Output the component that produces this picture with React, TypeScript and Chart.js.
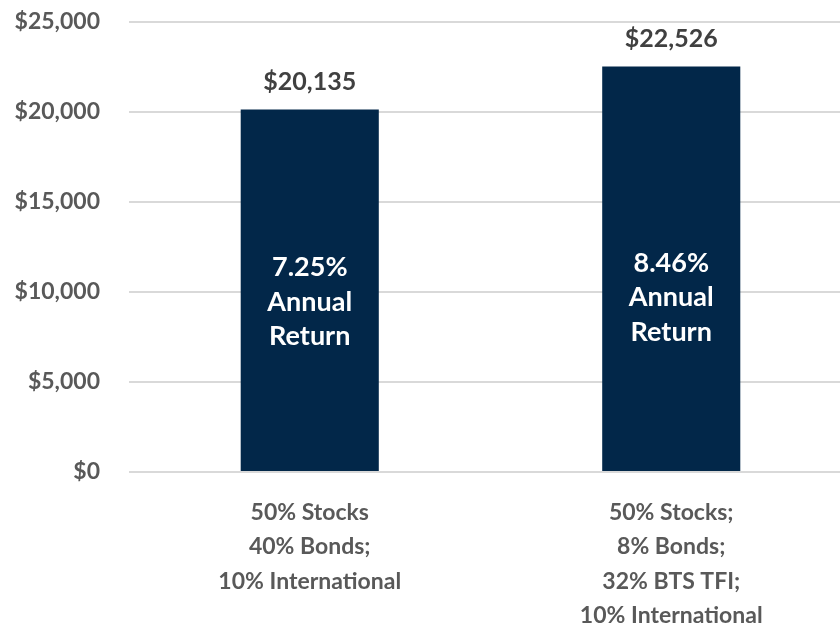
import React, { useEffect, useRef } from "react";
import { Chart, registerables } from "chart.js";

Chart.register(...registerables);

const categories: string[][] = [
  ["50% Stocks", "40% Bonds;", "10% International"],
  ["50% Stocks;", "8% Bonds;", "32% BTS TFI;", "10% International"],
];
const values: number[] = [20135, 22526];
const returnLabels: string[][] = [
  ["7.25%", "Annual", "Return"],
  ["8.46%", "Annual", "Return"],
];
const returnLabelAnchor: number[] = [9450, 9700];
const yTicks: number[] = [0, 5000, 10000, 15000, 20000, 25000];

const FONT = "Lato, 'Open Sans', sans-serif";
const fmt = (v: number) => "$" + v.toLocaleString("en-US");

const labelPlugin = {
  id: "barLabels",
  afterDatasetsDraw(chart: any) {
    const ctx = chart.ctx;
    const meta = chart.getDatasetMeta(0);
    const y = chart.scales.y;
    ctx.save();
    meta.data.forEach((bar: any, i: number) => {
      ctx.font = `bold 25px ${FONT}`;
      ctx.fillStyle = "#404040";
      ctx.textAlign = "center";
      ctx.textBaseline = "alphabetic";
      ctx.fillText(fmt(values[i]), bar.x, bar.y - 20);
      ctx.font = `bold 27px ${FONT}`;
      ctx.fillStyle = "#ffffff";
      ctx.textBaseline = "middle";
      const lines = returnLabels[i];
      const lh = 34.5;
      const cy = y.getPixelForValue(returnLabelAnchor[i]);
      lines.forEach((t, k) => {
        ctx.fillText(t, bar.x, cy + (k - (lines.length - 1) / 2) * lh);
      });
    });
    ctx.restore();
  },
};

export default function App() {
  const ref = useRef<HTMLCanvasElement>(null);
  useEffect(() => {
    if (!ref.current) return;
    const chart = new Chart(ref.current, {
      type: "bar",
      data: {
        labels: categories as any,
        datasets: [
          {
            data: values,
            backgroundColor: "#022749",
            borderWidth: 0,
            barPercentage: 0.382,
            categoryPercentage: 1,
          },
        ],
      },
      options: {
        responsive: false,
        animation: false,
        events: [],
        layout: { padding: { top: 22, left: 0, right: 0, bottom: 0 } },
        plugins: { legend: { display: false }, tooltip: { enabled: false } },
        scales: {
          x: {
            grid: { display: false, drawTicks: false },
            border: { display: false },
            ticks: {
              color: "#595959",
              font: { family: FONT, size: 23, weight: "bold", lineHeight: 1.5 },
              padding: 23,
              maxRotation: 0,
              autoSkip: false,
            },
            afterFit: (s: any) => {
              s.height = 156;
            },
          },
          y: {
            min: 0,
            max: 25000,
            afterBuildTicks: (s: any) => {
              s.ticks = yTicks.map((v) => ({ value: v }));
            },
            grid: { color: "#d9d9d9", lineWidth: 2, drawTicks: false },
            border: { display: false },
            ticks: {
              color: "#595959",
              font: { family: FONT, size: 23, weight: "bold" },
              padding: 29,
              callback: (v: any) => fmt(Number(v)),
            },
            afterFit: (s: any) => {
              s.width = 129;
              s.paddingTop = 0;
              s.paddingBottom = 0;
            },
          },
        },
      },
      plugins: [labelPlugin],
    });
    return () => chart.destroy();
  }, []);
  return (
    <div
      style={{
        position: "fixed",
        left: 0,
        top: 0,
        width: 840,
        height: 628,
        overflow: "hidden",
        background: "#fff",
      }}
    >
      <canvas ref={ref} width={852} height={628} style={{ display: "block" }} />
    </div>
  );
}
